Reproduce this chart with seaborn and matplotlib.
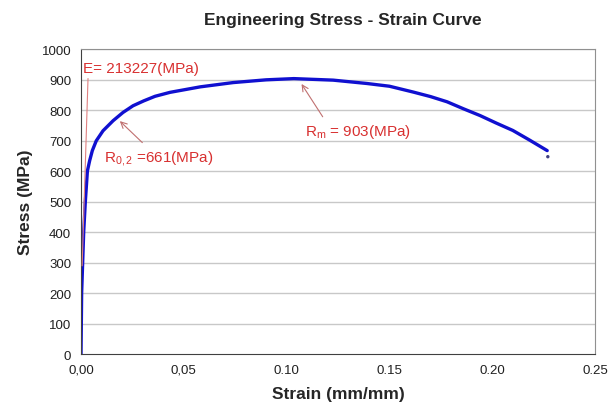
import matplotlib
matplotlib.use("Agg")
import matplotlib.pyplot as plt
import seaborn as sns
import pandas as pd

# valores
deformacion = [0.0, 0.0003, 0.0008, 0.0013, 0.0021, 0.0031, 0.0042, 0.0055, 0.0074,
               0.0107, 0.0156, 0.0204, 0.0253, 0.0305, 0.036, 0.0433, 0.058, 0.074,
               0.090, 0.1035, 0.1226, 0.139, 0.150, 0.1615, 0.170, 0.178, 0.186,
               0.194, 0.202, 0.210, 0.218, 0.2267]
esfuerzo = [0, 200, 300, 400, 500, 600, 634, 667, 699, 732, 765, 792, 814, 830, 845,
            858, 876, 890, 899, 903, 898, 887, 878, 859, 844, 827, 804, 782, 757,
            733, 702, 667]
punto_final = (0.227, 647)

etiquetas_x = ["0,00", "0,05", "0.10", "0.15", "0.20", "0.25"]
valores_x = [0, 0.05, 0.10, 0.15, 0.20, 0.25]
valores_y = list(range(0, 1001, 100))

sns.set_style("white")
plt.rcParams['font.family'] = ['Liberation Sans', 'DejaVu Sans']
plt.rcParams['mathtext.fontset'] = 'custom'
plt.rcParams['mathtext.rm'] = 'Liberation Sans'
plt.rcParams['mathtext.it'] = 'Liberation Sans'

datos = pd.DataFrame({'Strain': deformacion, 'Stress': esfuerzo})

fig = plt.figure(figsize=(6.11, 4.10), dpi=100)
ax = fig.add_axes([0.1326, 0.134, 0.8414, 0.744])

for v in valores_y[1:]:
    ax.axhline(v, color='#c8c8c8', lw=1, zorder=0)

sns.lineplot(x='Strain', y='Stress', data=datos, sort=False, color='#1010d0',
             linewidth=2.4, ax=ax)
sns.scatterplot(x=[punto_final[0]], y=[punto_final[1]], color='#404080', s=6,
                edgecolor='none', ax=ax)

ax.set_xlim(0, 0.25)
ax.set_ylim(0, 1000)
ax.set_xticks(valores_x)
ax.set_xticklabels(etiquetas_x)
ax.set_yticks(valores_y)
ax.tick_params(direction='inout', length=7, width=1, labelsize=9.5, colors='#202020')
for lado in ['left', 'bottom']:
    ax.spines[lado].set_color('#404040')
for lado in ['top', 'right']:
    ax.spines[lado].set_color('#909090')

ax.set_title('Engineering Stress - Strain Curve', fontsize=12.5, fontweight='bold',
             pad=18, x=0.51)
ax.set_xlabel('Strain (mm/mm)', fontsize=12.5, fontweight='bold', labelpad=7)
ax.set_ylabel('Stress (MPa)', fontsize=12.5, fontweight='bold', labelpad=6)

rojo = '#d83030'
flecha = dict(arrowstyle='->', color='#c07070', lw=0.8)
ax.annotate('E= 213227(MPa)', xy=(0.0005, 280), xytext=(0.0012, 937),
            fontsize=11, color=rojo, va='center',
            arrowprops=dict(arrowstyle='-', color='#e08080', lw=0.8, shrinkA=0,
                            relpos=(0.04, 0.0)))
ax.annotate(r'R$_{\mathrm{0,2}}$ =661(MPa)', xy=(0.0179, 770), xytext=(0.0112, 645),
            fontsize=11, color=rojo, va='center',
            arrowprops=dict(flecha, relpos=(0.4, 1.0)))
ax.annotate(r'R$_{\mathrm{m}}$ = 903(MPa)', xy=(0.1065, 893), xytext=(0.109, 730),
            fontsize=11, color=rojo, va='center',
            arrowprops=dict(flecha, relpos=(0.2, 1.0)))

plt.savefig('out.png', dpi=100)
